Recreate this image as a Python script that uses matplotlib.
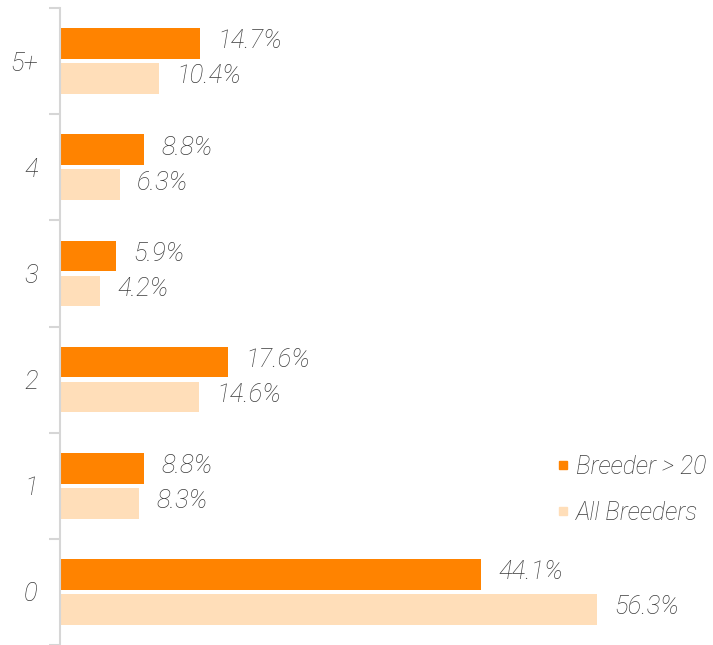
import numpy as np
import matplotlib.pyplot as plt
from matplotlib.lines import Line2D

# Number of litters category vs share of breeders
categories = ['0', '1', '2', '3', '4', '5+']
breeder_gt20 = [44.1, 8.8, 17.6, 5.9, 8.8, 14.7]
all_breeders = [56.3, 8.3, 14.6, 4.2, 6.3, 10.4]
series_names = ['Breeder > 20', 'All Breeders']

orange = '#FF8300'
peach = '#FFDEB9'
text_gray = '#3c3c3c'
axis_gray = '#D6D6D6'

plt.rcParams['font.family'] = ['Roboto', 'DejaVu Sans']
fs = 18.5

fig = plt.figure(figsize=(7.13, 6.45), dpi=100)
ax = fig.add_axes([60 / 713, 0.0, 1 - 60 / 713, 1 - 8 / 645])

y = np.arange(len(categories))
h = 0.29
off = 0.165

# orange bar sits above, peach below (y axis grows upward)
ax.barh(y + off, breeder_gt20, height=h, color=orange, edgecolor='none')
ax.barh(y - off, all_breeders, height=h, color=peach, edgecolor='none')

lbl = dict(va='center', ha='left', fontsize=fs, style='italic',
           fontweight='light', color=text_gray)
for yi, v in zip(y, breeder_gt20):
    ax.text(v + 1.8, yi + off + 0.02, f'{v}%', **lbl)
for yi, v in zip(y, all_breeders):
    ax.text(v + 1.8, yi - off + 0.02, f'{v}%', **lbl)

ax.set_xlim(0, 68.4)
ax.set_ylim(-0.5, 5.5)

ax.set_yticks(y)
ax.set_yticklabels(categories, fontsize=fs, style='italic',
                   fontweight='light', color=text_gray)
ax.tick_params(axis='y', which='major', length=0, pad=16)
ax.set_yticks(np.arange(-0.5, 5.6, 1.0), minor=True)
ax.tick_params(axis='y', which='minor', length=8, width=1.5, color=axis_gray)
ax.set_xticks([])

for s in ['top', 'right', 'bottom']:
    ax.spines[s].set_visible(False)
ax.spines['left'].set_color(axis_gray)
ax.spines['left'].set_linewidth(1.5)

handles = [Line2D([], [], marker='s', linestyle='none', markersize=6,
                  color=c) for c in (orange, peach)]
fig.legend(handles, series_names, loc='upper left',
           bbox_to_anchor=(541 / 713, 1 - 445 / 645), frameon=False,
           handletextpad=0.0, labelspacing=0.9, handlelength=1.0,
           borderaxespad=0.0,
           prop={'size': 17.8, 'style': 'italic', 'weight': 'light'},
           labelcolor=text_gray)

fig.savefig('out.png', dpi=100)
